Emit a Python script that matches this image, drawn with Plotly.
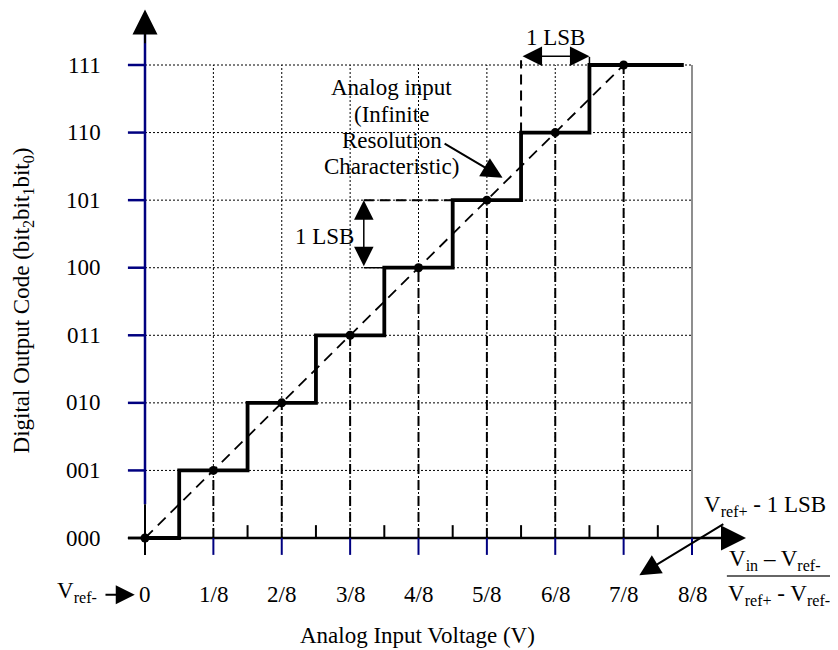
import plotly.graph_objects as go

# ---------------- data ----------------
codes = ['000', '001', '010', '011', '100', '101', '110', '111']
code_values = [0, 1, 2, 3, 4, 5, 6, 7]
x_labels = ['0', '1/8', '2/8', '3/8', '4/8', '5/8', '6/8', '7/8', '8/8']
x_values = [0, 1, 2, 3, 4, 5, 6, 7, 8]          # in units of 1/8 of full scale
ideal_x = [0, 1, 2, 3, 4, 5, 6, 7]               # centre of each code
ideal_code = [0, 1, 2, 3, 4, 5, 6, 7]
transition_x = [0.5, 1.5, 2.5, 3.5, 4.5, 5.5, 6.5]  # code transitions
transition_code = [1, 2, 3, 4, 5, 6, 7]
step_end_x = 7.88
annotation_lines = ["Analog input", "(Infinite", "Resolution", "Characteristic)"]

FONT = "Liberation Serif"
FS = 23
NAVY = "#000080"

fig = go.Figure()

shapes = []
def line(x0, y0, x1, y1, color="black", width=1, dash=None):
    d = dict(type="line", xref="x", yref="y", x0=x0, y0=y0, x1=x1, y1=y1,
             line=dict(color=color, width=width))
    if dash:
        d["line"]["dash"] = dash
    shapes.append(d)

# dotted grid
for xv in x_values[1:-1]:
    line(xv, 0, xv, code_values[-1], width=1, dash="2px,2px")
for yv in code_values[1:]:
    line(0, yv, x_values[-1], yv, width=1, dash="2px,2px")
# right border (solid)
line(x_values[-1], 0, x_values[-1], code_values[-1], color="#444", width=1.2)

# dashed verticals from ideal points down to the axis
for xv, yv in zip(ideal_x[1:], ideal_code[1:]):
    line(xv, 0, xv, yv, width=2, dash="10px,6px")
# dashed vertical at the 110->111 LSB marker
line(5.5, 6, 5.5, 7.07, width=2, dash="10px,6px")
line(6.5, 7, 6.5, 7.12, width=1.5)
# 1 LSB helper lines on the left
line(3.2, 5, 4.5, 5, width=2, dash="10px,6px")
line(3.2, 4, 3.5, 4, width=1.5)

# y axis (navy, black near the bottom)
line(0, 0.5, 0, 7.5, color=NAVY, width=2.5)
line(0, -0.25, 0, 0.5, color="black", width=2)
# x axis
line(-0.25, 0, 8.5, 0, color="black", width=2.5)
# ticks
for i, yv in enumerate(code_values):
    line(-0.25, yv, 0, yv, color=NAVY if i else "black", width=2.5)
for i, xv in enumerate(x_values):
    if i:
        line(xv, -0.25, xv, 0, color=NAVY, width=2)
for xv in [v + 0.5 for v in x_values[:-1]]:
    line(xv, 0, xv, 0.19, color="black", width=2)

# fraction bar
line(8.51, -0.562, 10.12, -0.562, color="#333", width=1.5)

# ideal (infinite resolution) line
fig.add_trace(go.Scatter(x=[ideal_x[0], ideal_x[-1]], y=[ideal_code[0], ideal_code[-1]],
                         mode="lines", line=dict(color="black", width=1.8, dash="11px,7px"),
                         hoverinfo="skip"))
# staircase transfer characteristic
fig.add_trace(go.Scatter(x=[0] + transition_x + [step_end_x],
                         y=[0] + transition_code + [transition_code[-1]],
                         mode="lines", line=dict(color="black", width=3.8, shape="hv"),
                         hoverinfo="skip"))
# ideal points
fig.add_trace(go.Scatter(x=ideal_x, y=ideal_code, mode="markers",
                         marker=dict(color="black", size=9), hoverinfo="skip"))

ann = []
def text(x, y, s, xanchor="center", yanchor="middle", angle=0, size=FS):
    ann.append(dict(x=x, y=y, xref="x", yref="y", text=s, showarrow=False,
                    xanchor=xanchor, yanchor=yanchor, textangle=angle,
                    font=dict(family=FONT, size=size, color="black")))

def arrow(x, y, ax, ay, width=2, size=1.3, side="end"):
    ann.append(dict(x=x, y=y, ax=ax, ay=ay, xref="x", yref="y", axref="x", ayref="y",
                    text="", showarrow=True, arrowhead=2, startarrowhead=2,
                    arrowsize=size, startarrowsize=size, arrowwidth=width,
                    arrowcolor="black", arrowside=side))

# tick labels
for lab, yv in zip(codes, code_values):
    text(-0.61, yv, lab, xanchor="right")
for lab, xv in zip(x_labels, x_values):
    text(xv, -0.84, lab)

# axis arrowheads
arrow(0, 7.82, 0, 7.3, width=2, size=2.5)
arrow(8.79, 0, 8.3, 0, width=2, size=2.5)

# axis titles
text(3.99, -1.45, "Analog Input Voltage (V)")
text(-1.78, 3.52, "Digital Output Code (bit<sub>2</sub>bit<sub>1</sub>bit<sub>0</sub>)", angle=-90)

# V_ref- label with arrow
text(-1.0, -0.80, "V<sub>ref-</sub>")
arrow(-0.15, -0.84, -0.6, -0.84, width=2, size=1.9)

# 1 LSB markers
text(6.0, 7.41, "1 LSB")
arrow(6.5, 7.13, 5.5, 7.13, width=1.5, size=2.6, side="end+start")
text(2.63, 4.46, "1 LSB")
arrow(3.2, 5, 3.2, 4, width=1.5, size=2.6, side="end+start")

# analog input annotation
for lab, py in zip(annotation_lines, [87, 114, 140, 166]):
    text(3.61, (538 - py) / 67.571, lab)
arrow(5.23, 5.33, 4.36, 5.85, width=2, size=2.1)

# right-hand labels
text(9.07, 0.47, "V<sub>ref+</sub> - 1 LSB")
arrow(7.23, -0.55, 8.48, 0.22, width=2, size=2.1)
text(9.21, -0.33, "V<sub>in</sub> \u2013 V<sub>ref-</sub>")
text(9.27, -0.84, "V<sub>ref+</sub> - V<sub>ref-</sub>")

# page has an 8px body margin: figure is 830x642, ranges mapped to page pixels
fig.update_layout(
    width=830, height=642,
    margin=dict(l=0, r=0, t=0, b=0),
    paper_bgcolor="white", plot_bgcolor="white",
    showlegend=False,
    shapes=shapes, annotations=ann,
    xaxis=dict(range=[(8 - 145) / 68.375, (838 - 145) / 68.375], visible=False, fixedrange=True),
    yaxis=dict(range=[(538 - 650) / 67.571, (538 - 8) / 67.571], visible=False, fixedrange=True),
)

fig.write_html("out.html")
